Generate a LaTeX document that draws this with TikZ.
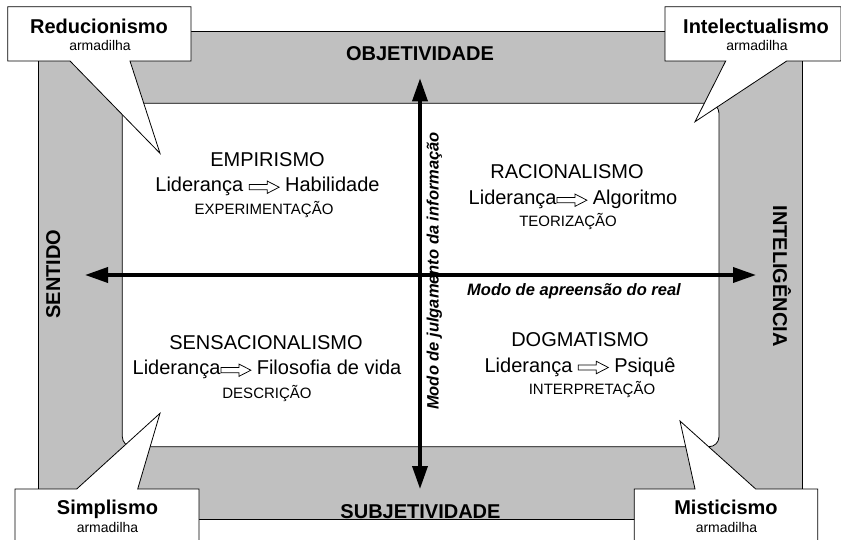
\documentclass[tikz,border=0pt]{standalone}
\usepackage{fontspec}
\setmainfont{Liberation Sans}
\usetikzlibrary{arrows.meta}
\definecolor{framegray}{HTML}{C0C0C0}
\newcommand{\wra}{\tikz[x=1pt,y=1pt,baseline=-4.5pt]\draw[line width=0.75pt,fill=white,line join=miter] (0,-2.6) -- (18,-2.6) -- (18,-6.2) -- (30,0) -- (18,6.2) -- (18,2.6) -- (0,2.6) -- cycle;}
\tikzset{
  big/.style={font=\fontsize{20}{24}\selectfont, inner sep=0pt, anchor=base},
  small/.style={font=\fontsize{15}{18}\selectfont, inner sep=0pt, anchor=base},
  axislabel/.style={font=\bfseries\fontsize{20}{24}\selectfont, inner sep=0pt, anchor=base},
  traptitle/.style={font=\bfseries\fontsize{20}{24}\selectfont, inner sep=0pt, anchor=base},
  trapsub/.style={font=\fontsize{14}{16}\selectfont, inner sep=0pt, anchor=base},
  axiscap/.style={font=\bfseries\itshape\fontsize{16.5}{20}\selectfont, inner sep=0pt, anchor=base},
  callout/.style={draw=black, fill=white, line width=0.8pt, line join=miter},
  axisline/.style={line width=3.6pt, {Triangle[length=23pt,width=15pt]}-{Triangle[length=23pt,width=15pt]}},
  frame/.style={draw=black, line width=0.8pt},
}
\begin{document}
\begin{tikzpicture}[x=1pt,y=-1pt]
\useasboundingbox (0,0) rectangle (841,540);
\fill[white] (0,0) rectangle (841,540);
% frame
\draw[frame, fill=framegray] (38.5,31) rectangle (802,519);
\draw[frame, fill=white, rounded corners=10pt] (122.3,103.3) rectangle (719,446.7);
% axes
\coordinate (W) at (85,275);
\coordinate (E) at (756,275);
\coordinate (N) at (420,78.3);
\coordinate (S) at (420,489);
\draw[axisline] (W) -- (E);
\draw[axisline] (N) -- (S);
% axis labels
\node[axislabel] (obj) at (420,60.5) {OBJETIVIDADE};
\node[axislabel] (subj) at (420.5,518) {SUBJETIVIDADE};
\node[axislabel, rotate=90] (sent) at (60,274) {SENTIDO};
\node[axislabel, rotate=-90] (intel) at (773,276) {INTELIGÊNCIA};
\node[axiscap] (hcap) at (574,295.5) {Modo de apreensão do real};
\node[axiscap, rotate=90] (vcap) at (438.5,271) {Modo de julgamento da informação};
% quadrants
\node[big] (emp) at (267.5,166.5) {EMPIRISMO};
\node[big] (empl) at (267.5,191.7) {Liderança \wra\ Habilidade};
\node[small] (emps) at (264,215) {EXPERIMENTAÇÃO};
\node[big] (rac) at (567,179) {RACIONALISMO};
\node[big] (racl) at (573,204.7) {Liderança\wra\ Algoritmo};
\node[small] (racs) at (568,227) {TEORIZAÇÃO};
\node[big] (sens) at (266,349) {SENSACIONALISMO};
\node[big] (sensl) at (267,374.7) {Liderança\wra\ Filosofia de vida};
\node[small] (senss) at (267,398) {DESCRIÇÃO};
\node[big] (dog) at (580,346) {DOGMATISMO};
\node[big] (dogl) at (580,372) {Liderança \wra\ Psiquê};
\node[small] (dogs) at (592,394.5) {INTERPRETAÇÃO};
% callouts
\draw[callout] (7.7,6.7) -- (191,6.7) -- (191,61) -- (130,61) -- (160,153.3) -- (70,61) -- (7.7,61) -- cycle;
\draw[callout] (665,6.7) -- (841,6.7) -- (841,61) -- (786.7,61) -- (695,121.7) -- (725.7,61) -- (665,61) -- cycle;
\draw[callout] (15,489) -- (76.7,489) -- (160,413.3) -- (137.7,489) -- (199,489) -- (199,545) -- (15,545) -- cycle;
\draw[callout] (634.3,489) -- (695,489) -- (680,421) -- (755.7,489) -- (817.7,489) -- (817.7,545) -- (634.3,545) -- cycle;
\node[traptitle] (red) at (99,33.3) {Reducionismo};
\node[trapsub] (reds) at (100,50.7) {armadilha};
\node[traptitle] (int) at (756,33.3) {Intelectualismo};
\node[trapsub] (ints) at (757,50.7) {armadilha};
\node[traptitle] (sim) at (107.5,514.3) {Simplismo};
\node[trapsub] (sims) at (107.5,532.7) {armadilha};
\node[traptitle] (mis) at (726,514.3) {Misticismo};
\node[trapsub] (miss) at (726.5,532.7) {armadilha};
\end{tikzpicture}
\end{document}
